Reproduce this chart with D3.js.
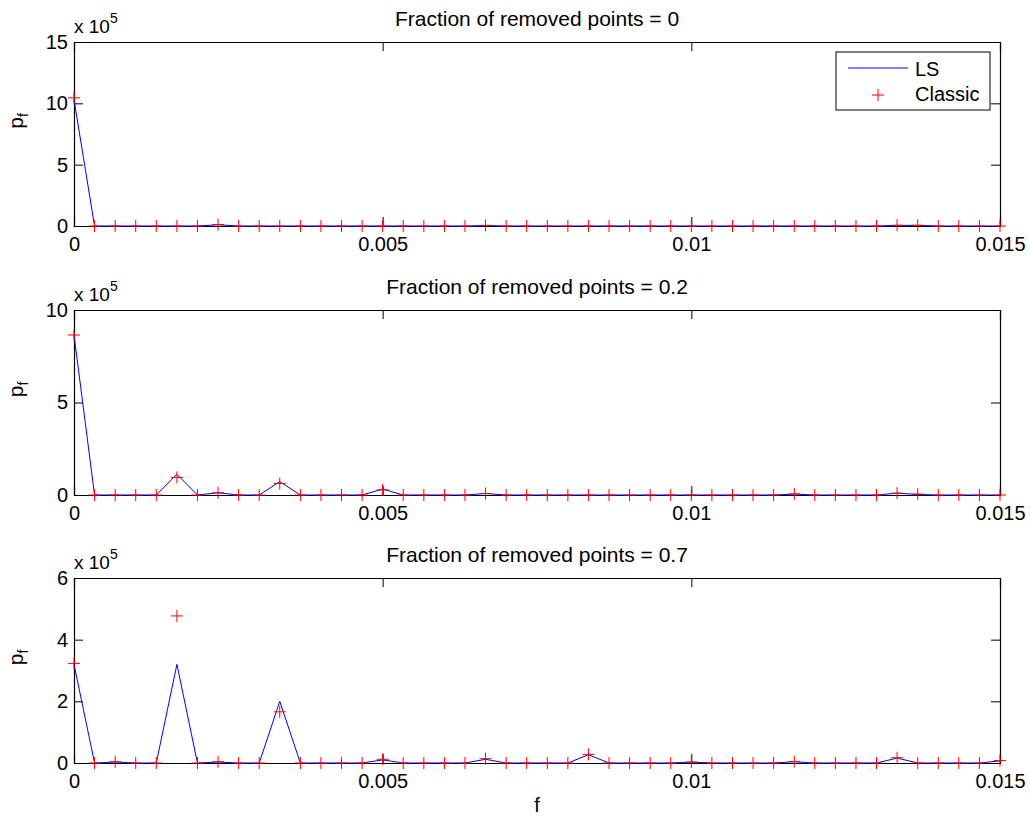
<!DOCTYPE html>
<html lang="en">
<head>
<meta charset="UTF-8">
<title>Fraction of removed points</title>
<style>
  * { margin: 0; padding: 0; }
  body { background: #fff; }
  svg text { font-family: "Liberation Sans", Arial, sans-serif; fill: #000; }
</style>
</head>
<body>
<div id="chart"></div>
<script src="https://cdn.jsdelivr.net/npm/d3@7/dist/d3.min.js"></script>
<script>
// frequency grid (k/3000)
const freq = [0, 0.000333, 0.000667, 0.001, 0.001333, 0.001667, 0.002, 0.002333, 0.002667, 0.003,
  0.003333, 0.003667, 0.004, 0.004333, 0.004667, 0.005, 0.005333, 0.005667, 0.006, 0.006333,
  0.006667, 0.007, 0.007333, 0.007667, 0.008, 0.008333, 0.008667, 0.009, 0.009333, 0.009667,
  0.01, 0.010333, 0.010667, 0.011, 0.011333, 0.011667, 0.012, 0.012333, 0.012667, 0.013,
  0.013333, 0.013667, 0.014, 0.014333, 0.014667, 0.015]

// values in units of 1e5
const ls0 = [10.3, 0, 0, 0, 0, 0, 0, 0.1, 0, 0, 0, 0, 0, 0, 0, 0, 0, 0, 0, 0,
  0.04, 0, 0, 0, 0, 0, 0, 0, 0, 0, 0, 0, 0, 0, 0, 0, 0, 0, 0, 0,
  0.05, 0.05, 0, 0, 0, 0]
const classic0 = [10.45, 0, 0, 0, 0, 0, 0, 0.12, 0, 0, 0, 0, 0, 0, 0, 0, 0, 0, 0, 0,
  0.05, 0, 0, 0, 0, 0, 0, 0, 0, 0, 0, 0, 0, 0, 0, 0, 0, 0, 0, 0,
  0.06, 0.06, 0, 0, 0, 0]

const ls2 = [8.65, 0, 0, 0, 0, 1.12, 0, 0.12, 0, 0, 0.72, 0, 0, 0, 0, 0.32, 0, 0, 0, 0,
  0.08, 0, 0, 0, 0, 0, 0, 0, 0, 0, 0, 0, 0, 0, 0, 0.05, 0, 0, 0, 0,
  0.1, 0.03, 0, 0, 0, 0]
const classic2 = [8.65, 0, 0, 0, 0, 0.95, 0, 0.12, 0, 0, 0.62, 0, 0, 0, 0, 0.28, 0, 0, 0, 0,
  0.08, 0, 0, 0, 0, 0, 0, 0, 0, 0, 0, 0, 0, 0, 0, 0.06, 0, 0, 0, 0,
  0.1, 0.05, 0, 0, 0, 0]

const ls7 = [3.2, 0, 0.03, 0, 0, 3.2, 0, 0.03, 0, 0, 2.0, 0, 0, 0, 0, 0.1, 0, 0, 0, 0,
  0.12, 0, 0, 0, 0, 0.27, 0, 0, 0, 0, 0.03, 0, 0, 0, 0, 0.04, 0, 0, 0, 0,
  0.16, 0, 0, 0, 0, 0.07]
const classic7 = [3.23, 0, 0.04, 0, 0, 4.77, 0, 0.04, 0, 0, 1.66, 0, 0, 0, 0, 0.12, 0, 0, 0, 0,
  0.14, 0, 0, 0, 0, 0.28, 0, 0, 0, 0, 0.03, 0, 0, 0, 0, 0.05, 0, 0, 0, 0,
  0.17, 0, 0, 0, 0, 0.08]

const titles = ['Fraction of removed points = 0', 'Fraction of removed points = 0.2', 'Fraction of removed points = 0.7']
const yMax = [15, 10, 6]
const yTicks = [[0, 5, 10, 15], [0, 5, 10], [0, 2, 4, 6]]
const xTicks = [0, 0.005, 0.01, 0.015]

const panels = [
  {ls: ls0, classic: classic0, top: 42, bottom: 226},
  {ls: ls2, classic: classic2, top: 310, bottom: 495},
  {ls: ls7, classic: classic7, top: 578, bottom: 763}
]

const svg = d3.select('#chart').append('svg')
  .attr('width', 1030)
  .attr('height', 817)

const left = 74, right = 1000
const x = d3.scaleLinear().domain([0, 0.015]).range([left, right])
const fs = 20
const font = '"Liberation Sans", Arial, sans-serif'

panels.forEach((p, i) => {
  const y = d3.scaleLinear().domain([0, yMax[i]]).range([p.bottom, p.top])
  const g = svg.append('g')

  // inward ticks on all four sides, like a matlab box
  const xb = d3.axisBottom(x).tickValues(xTicks).tickSize(-9).tickFormat(d3.format('')).tickPadding(11)
  const xt = d3.axisTop(x).tickValues(xTicks).tickSize(-9).tickFormat('')
  const yl = d3.axisLeft(y).tickValues(yTicks[i]).tickSize(-9).tickFormat(d3.format('d')).tickPadding(6)
  const yr = d3.axisRight(y).tickValues(yTicks[i]).tickSize(-9).tickFormat('')

  g.append('g').attr('transform', `translate(0,${p.bottom})`).call(xb)
  g.append('g').attr('transform', `translate(0,${p.top})`).call(xt)
  g.append('g').attr('transform', `translate(${left},0)`).call(yl)
  g.append('g').attr('transform', `translate(${right},0)`).call(yr)

  g.selectAll('.domain').attr('stroke', '#000').attr('stroke-width', 1.2)
  g.selectAll('.tick line').attr('stroke', '#000')
  g.selectAll('.tick text').attr('font-size', fs).attr('fill', '#000')
    .attr('font-family', font)

  // LS line
  const line = d3.line().x((d, k) => x(freq[k])).y(d => y(d))
  g.append('path').datum(p.ls)
    .attr('fill', 'none')
    .attr('stroke', '#0000ff')
    .attr('stroke-width', 1)
    .attr('d', line)

  // Classic plus markers
  g.selectAll('.plus').data(p.classic).enter().append('path')
    .attr('class', 'plus')
    .attr('d', (d, k) => {
      const cx = x(freq[k]), cy = y(d)
      return `M${cx - 6},${cy}H${cx + 6}M${cx},${cy - 6}V${cy + 6}`
    })
    .attr('stroke', '#ff0000')
    .attr('stroke-width', 1)

  // title
  svg.append('text')
    .attr('x', (left + right) / 2)
    .attr('y', p.top - 16)
    .attr('text-anchor', 'middle')
    .attr('font-size', 21)
    .text(titles[i])

  // x 10^5 multiplier
  const mult = svg.append('text')
    .attr('x', left)
    .attr('y', p.top - 9)
    .attr('font-size', 19)
  mult.append('tspan').text('x 10')
  mult.append('tspan').attr('dy', -10).attr('font-size', 14).text('5')

  // y label p_f
  const ylab = svg.append('text')
    .attr('transform', `translate(23,${(p.top + p.bottom) / 2 - 13}) rotate(-90)`)
    .attr('text-anchor', 'middle')
    .attr('font-size', 21)
  ylab.append('tspan').text('p')
  ylab.append('tspan').attr('dy', 5).attr('font-size', 14).text('f')
})

// x label
svg.append('text')
  .attr('x', (left + right) / 2)
  .attr('y', 812)
  .attr('text-anchor', 'middle')
  .attr('font-size', fs)
  .text('f')

// legend
const lg = svg.append('g')
lg.append('rect')
  .attr('x', 836).attr('y', 52)
  .attr('width', 154).attr('height', 58)
  .attr('fill', '#fff').attr('stroke', '#000').attr('stroke-width', 1)
lg.append('line')
  .attr('x1', 848).attr('x2', 908).attr('y1', 68).attr('y2', 68)
  .attr('stroke', '#0000ff')
lg.append('path')
  .attr('d', 'M872,95H884M878,89V101')
  .attr('stroke', '#ff0000')
lg.append('text').attr('x', 915).attr('y', 75.5).attr('font-size', fs).text('LS')
lg.append('text').attr('x', 915).attr('y', 101).attr('font-size', fs).text('Classic')
</script>
</body>
</html>
